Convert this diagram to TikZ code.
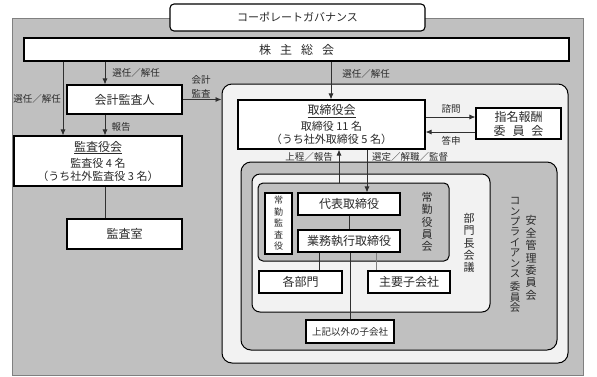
\documentclass[tikz,border=0pt]{standalone}
\usepackage{fontspec}
\setmainfont{Noto Sans CJK JP}
\usetikzlibrary{arrows.meta}
\definecolor{midgray}{HTML}{C0C0C0}
\definecolor{lightgray}{HTML}{F2F2F2}
\definecolor{rimgray}{HTML}{808080}
\definecolor{txt}{HTML}{2A2A2A}
\definecolor{linec}{HTML}{303030}
\newcommand{\jbig}{\fontsize{12}{14}\selectfont}
\newcommand{\jmid}{\fontsize{11}{13}\selectfont}
\newcommand{\jlab}{\fontsize{9.5}{11}\selectfont}
\begin{document}
\begin{tikzpicture}[x=1pt,y=-1pt,
  box/.style={draw=black, line width=1.1pt, fill=white, inner sep=0pt, text=txt, align=center},
  area/.style={draw=black, line width=1pt, inner sep=0pt},
  arr/.style={draw=linec, line width=0.8pt, -{Latex[length=6pt,width=5pt]}},
  ln/.style={draw=linec, line width=0.8pt},
  lbl/.style={inner sep=0pt, text=txt, font=\jlab},
  vt/.style={inner sep=0pt, align=center, text=txt}]
\useasboundingbox (0,0) rectangle (597,376);

% background frames
\node[draw=rimgray, fill=midgray, line width=0.8pt, minimum width=571, minimum height=357, inner sep=0pt] (outer) at (297.5,196.5) {};
\node[area, fill=lightgray, rounded corners=10pt, minimum width=346, minimum height=279] (light) at (395,223.5) {};
\node[area, fill=midgray, rounded corners=10pt, minimum width=316, minimum height=188] (comp) at (399,256) {};
\node[area, fill=lightgray, rounded corners=8pt, minimum width=238, minimum height=138] (bumon) at (371,243) {};
\node[area, fill=midgray, rounded corners=5pt, minimum width=191, minimum height=78] (joukin) at (353.5,222) {};

% title
\node[box, rounded corners=4pt, font=\jmid, minimum width=255, minimum height=27] (title) at (297.5,17.5) {コーポレートガバナンス};

% boxes
\node[box, font=\jbig, minimum width=545, minimum height=23] (soukai) at (296.5,49.5) {株\hspace{9pt}主\hspace{9pt}総\hspace{9pt}会};
\node[box, font=\jbig, minimum width=115, minimum height=29] (kaikei) at (124.5,99.5) {会計監査人};
\node[box, font=\jmid, minimum width=168, minimum height=50] (kansa) at (98,161) {{\jbig\underline{監査役会}}\\[3pt]監査役 4 名\\（うち社外監査役 3 名）};
\node[box, font=\jbig, minimum width=115, minimum height=30] (kshitsu) at (124.5,234) {監査室};
\node[box, font=\jmid, minimum width=187, minimum height=49] (board) at (331.5,124.5) {{\jbig\underline{取締役会}}\\[3pt]取締役 11 名\\（うち社外取締役 5 名）};
\node[box, font=\jbig, minimum width=85, minimum height=31] (shimei) at (518.5,123.5) {指名報酬\\委\hspace{7pt}員\hspace{7pt}会};
\node[box, font=\fontsize{9}{11.5}\selectfont, minimum width=27, minimum height=61] (jkansa) at (278.5,223.5) {常\\勤\\監\\査\\役};
\node[box, font=\jbig, minimum width=102, minimum height=22] (daihyo) at (349,204) {代表取締役};
\node[box, font=\jbig, minimum width=102, minimum height=22] (gyomu) at (349,241) {業務執行取締役};
\node[box, font=\jbig, minimum width=83, minimum height=22] (kakubu) at (300.5,282) {各部門};
\node[box, font=\jbig, minimum width=82, minimum height=22] (shuyou) at (409,282) {主要子会社};
\node[box, font=\fontsize{9.5}{11}\selectfont, minimum width=88, minimum height=23] (igai) at (350,331.5) {上記以外の子会社};

% vertical frame labels
\node[vt, font=\fontsize{11}{12.4}\selectfont] (vjoukin) at (427,222) {常\\勤\\役\\員\\会};
\node[vt, font=\fontsize{11}{12.4}\selectfont] (vbumon) at (469,243) {部\\門\\長\\会\\議};
\node[vt, font=\fontsize{10.5}{10.4}\selectfont] (vcomp) at (515,255) {コ\\ン\\プ\\ラ\\イ\\ア\\ン\\ス\\[3pt]委\\員\\会};
\node[vt, font=\fontsize{11}{12.4}\selectfont] (vanzen) at (531,258) {安\\全\\管\\理\\委\\員\\会};

% helper x positions
\coordinate (xA) at (105,0);
\coordinate (xB) at (63,0);
\coordinate (xC) at (331,0);
\coordinate (xU) at (339,0);
\coordinate (xD) at (367,0);
\coordinate (xF) at (319,0);
\coordinate (xG) at (350,0);
\coordinate (xH) at (376,0);
\coordinate (yS) at (0,117);
\coordinate (yT) at (0,132);

% connectors
\draw[arr] (soukai.south -| xA) -- (kaikei.north -| xA);
\draw[arr] (soukai.south -| xB) -- (kansa.north -| xB);
\draw[arr] (kaikei.south -| xA) -- (kansa.north -| xA);
\draw[ln] (kansa.south -| xA) -- (kshitsu.north -| xA);
\draw[arr] (kaikei.east) -- (kaikei.east -| light.west);
\draw[arr] (soukai.south -| xC) -- (board.north -| xC);
\draw[arr] (board.east |- yS) -- (shimei.west |- yS);
\draw[arr] (shimei.west |- yT) -- (board.east |- yT);
\draw[arr] (joukin.north -| xU) -- (board.south -| xU);
\draw[arr] (board.south -| xD) -- (daihyo.north -| xD);
\draw[ln] (daihyo.south) -- (gyomu.north);
\draw[ln, line width=0.6pt] (gyomu.south -| xF) -- (kakubu.north -| xF);
\draw[ln, line width=0.6pt] (gyomu.south -| xG) -- (igai.north -| xG);
\draw[ln, draw=rimgray, line width=0.6pt] (gyomu.south -| xH) -- (shuyou.north -| xH);

% connector labels
\node[lbl] (l1) at (136,73) {選任／解任};
\node[lbl] (l2) at (37,99) {選任／解任};
\node[lbl] (l3) at (121,127) {報告};
\node[lbl] (l4) at (201,80) {会計};
\node[lbl] (l5) at (201,94) {監査};
\node[lbl] (l6) at (366,74) {選任／解任};
\node[lbl] (l7) at (451,109) {諮問};
\node[lbl] (l8) at (451,141) {答申};
\node[lbl] (l9) at (309,157) {上程／報告};
\node[lbl] (l10) at (410,157) {選定／解職／監督};
\end{tikzpicture}
\end{document}
